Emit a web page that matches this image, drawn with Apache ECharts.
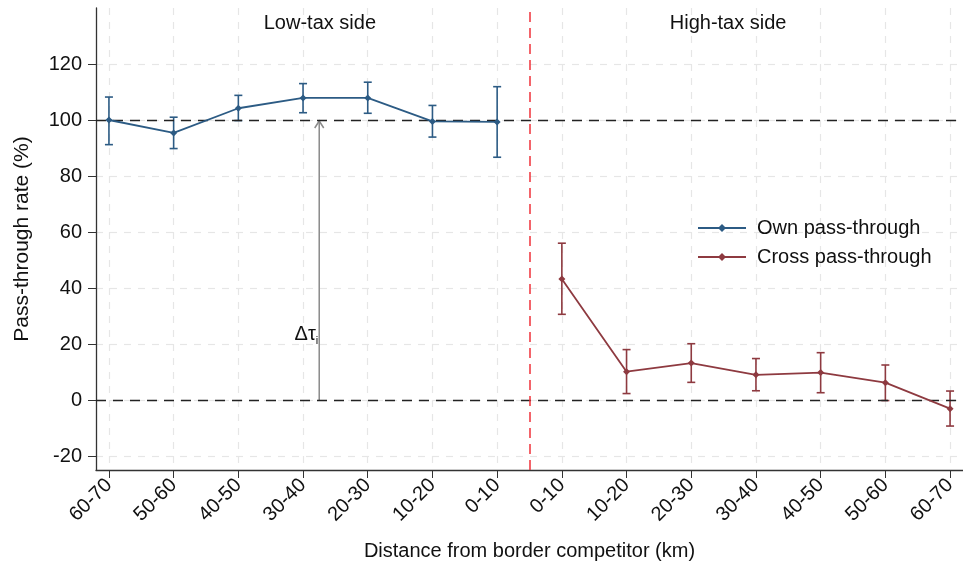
<!DOCTYPE html>
<html>
<head>
<meta charset="utf-8">
<script src="https://cdn.jsdelivr.net/npm/echarts@6/dist/echarts.min.js"></script>
<style>
  html, body { margin: 0; padding: 0; background: #fff; }
  #chart { width: 963px; height: 567px; }
</style>
</head>
<body>
<div id="chart"></div>
<script>
// Distance bins, low-tax side (left) then high-tax side (right)
const categories = ['60-70', '50-60', '40-50', '30-40', '20-30', '10-20', '0-10',
                    '0-10', '10-20', '20-30', '30-40', '40-50', '50-60', '60-70'];

// Own pass-through (low-tax side), point estimates and 95% bounds
const ownEst = [100.0, 95.4, 104.2, 107.9, 107.9, 99.5, 99.3];
const ownLo  = [91.2, 89.8, 99.8, 102.6, 102.4, 93.9, 86.7];
const ownHi  = [108.2, 101.0, 108.8, 113.0, 113.5, 105.2, 111.9];

// Cross pass-through (high-tax side)
const crossEst = [43.2, 10.1, 13.2, 9.0, 9.8, 6.2, -3.1];
const crossLo  = [30.6, 2.3, 6.3, 3.3, 2.6, -0.2, -9.3];
const crossHi  = [56.0, 18.0, 20.1, 14.8, 16.9, 12.5, 3.2];

const yTicks = [-20, 0, 20, 40, 60, 80, 100, 120];

const BLUE = '#2c5b84';
const RED = '#8e3a40';
const FONT = '"Liberation Sans", Arial, sans-serif';

// x positions: bins sit at 1..14
const ownX = ownEst.map((_, i) => i + 1);
const crossX = crossEst.map((_, i) => i + 1 + ownEst.length);
const xPositions = categories.map((_, i) => i + 1);

const ownLine = ownEst.map((v, i) => [ownX[i], v]);
const crossLine = crossEst.map((v, i) => [crossX[i], v]);
const ownBars = ownEst.map((_, i) => [ownX[i], ownLo[i], ownHi[i]]);
const crossBars = crossEst.map((_, i) => [crossX[i], crossLo[i], crossHi[i]]);

function errorBarRenderer(color) {
  return function (params, api) {
    const x = api.value(0);
    const lo = api.coord([x, api.value(1)]);
    const hi = api.coord([x, api.value(2)]);
    const cap = 4;
    const style = { stroke: color, lineWidth: 1.6, fill: null };
    return {
      type: 'group',
      children: [
        { type: 'line', shape: { x1: lo[0], y1: lo[1], x2: hi[0], y2: hi[1] }, style },
        { type: 'line', shape: { x1: lo[0] - cap, y1: lo[1], x2: lo[0] + cap, y2: lo[1] }, style },
        { type: 'line', shape: { x1: hi[0] - cap, y1: hi[1], x2: hi[0] + cap, y2: hi[1] }, style }
      ]
    };
  };
}

// Tax-gap arrow from 0 to 100 with its label, plus the two side headings
const arrowX = 4.25;
function annotationRenderer(params, api) {
  if (params.dataIndex !== 0) return null;
  const base = api.coord([arrowX, 0]);
  const top = api.coord([arrowX, 100]);
  const lbl = api.coord([arrowX, 23.5]);
  const low = api.coord([4.26, 134.6]);
  const high = api.coord([10.57, 134.6]);
  const gs = { stroke: '#8a8a8a', lineWidth: 1.5, fill: null };
  return {
    type: 'group',
    children: [
      { type: 'line', shape: { x1: base[0], y1: base[1], x2: top[0], y2: top[1] + 1 }, style: gs },
      { type: 'polyline', shape: { points: [[top[0] - 4.5, top[1] + 8], [top[0], top[1] + 1], [top[0] + 4.5, top[1] + 8]] }, style: gs },
      { type: 'text', x: lbl[0] - 1, y: lbl[1],
        style: { text: '{a|Δτ}{b|i}', align: 'right', verticalAlign: 'middle',
          rich: { a: { fontSize: 20, fontFamily: FONT, fill: '#111' },
                  b: { fontSize: 11, fontFamily: FONT, fill: '#111', padding: [13, 0, 0, 0] } } } },
      { type: 'text', x: low[0], y: low[1],
        style: { text: 'Low-tax side', align: 'center', verticalAlign: 'middle', fontSize: 20, fontFamily: FONT, fill: '#111' } },
      { type: 'text', x: high[0], y: high[1],
        style: { text: 'High-tax side', align: 'center', verticalAlign: 'middle', fontSize: 20, fontFamily: FONT, fill: '#111' } }
    ]
  };
}

const gridDash = { color: '#e6e6e6', width: 1.2, type: [7, 7] };

const chart = echarts.init(document.getElementById('chart'), null, { renderer: 'canvas' });
chart.setOption({
  animation: false,
  backgroundColor: '#fff',
  textStyle: { fontFamily: FONT },
  grid: { left: 96, right: 0, top: 8, bottom: 97, containLabel: false },
  legend: {
    data: ['Own pass-through', 'Cross pass-through'],
    orient: 'vertical',
    left: 697,
    top: 217,
    padding: 0,
    itemWidth: 48,
    itemHeight: 10,
    itemGap: 7,
    textStyle: { fontSize: 20, color: '#111', fontFamily: FONT, lineHeight: 22, padding: [0, 0, 0, 6] }
  },
  xAxis: {
    type: 'value',
    min: 0.8,
    max: 14.2,
    name: 'Distance from border competitor (km)',
    nameLocation: 'middle',
    nameGap: 71,
    nameTextStyle: { fontSize: 20, color: '#111', fontFamily: FONT },
    axisLine: { show: true, onZero: false, lineStyle: { color: '#333', width: 1.3 } },
    axisTick: { show: true, length: 8, customValues: xPositions, lineStyle: { color: '#333' } },
    axisLabel: {
      customValues: xPositions,
      rotate: 45,
      margin: 12,
      fontSize: 20,
      color: '#111',
      fontFamily: FONT,
      formatter: v => categories[Math.round(v) - 1] || ''
    },
    splitLine: { show: true, lineStyle: gridDash }
  },
  yAxis: {
    type: 'value',
    min: -25,
    max: 140,
    name: 'Pass-through rate (%)',
    nameLocation: 'middle',
    nameGap: 63,
    nameTextStyle: { fontSize: 21, color: '#111', fontFamily: FONT },
    axisLine: { show: true, lineStyle: { color: '#333', width: 1.3 } },
    axisTick: { show: true, length: 8, customValues: yTicks, lineStyle: { color: '#333' } },
    axisLabel: { customValues: yTicks, fontSize: 20, color: '#111', margin: 14, fontFamily: FONT },
    splitLine: { show: true, lineStyle: gridDash }
  },
  series: [
    {
      name: 'Own pass-through',
      type: 'line',
      data: ownLine,
      symbol: 'diamond',
      symbolSize: 7,
      color: BLUE,
      lineStyle: { color: BLUE, width: 1.8 },
      itemStyle: { color: BLUE },
      z: 5,
      markLine: {
        silent: true,
        symbol: 'none',
        label: { show: false },
        data: [
          { yAxis: 100, lineStyle: { color: '#222', width: 1.3, type: [10, 7] } },
          { yAxis: 0, lineStyle: { color: '#222', width: 1.3, type: [10, 7] } },
          { xAxis: 7.5, lineStyle: { color: '#f0323a', width: 1.5, type: [10, 6] } }
        ]
      }
    },
    {
      name: 'Cross pass-through',
      type: 'line',
      data: crossLine,
      symbol: 'diamond',
      symbolSize: 7,
      color: RED,
      lineStyle: { color: RED, width: 1.8 },
      itemStyle: { color: RED },
      z: 5
    },
    {
      name: 'own-ci',
      type: 'custom',
      data: ownBars,
      renderItem: errorBarRenderer(BLUE),
      encode: { x: 0, y: [1, 2] },
      z: 4
    },
    {
      name: 'cross-ci',
      type: 'custom',
      data: crossBars,
      renderItem: errorBarRenderer(RED),
      encode: { x: 0, y: [1, 2] },
      z: 4
    },
    {
      name: 'annotations',
      type: 'custom',
      data: [[arrowX, 0]],
      renderItem: annotationRenderer,
      clip: false,
      z: 3
    }
  ]
});
</script>
</body>
</html>
